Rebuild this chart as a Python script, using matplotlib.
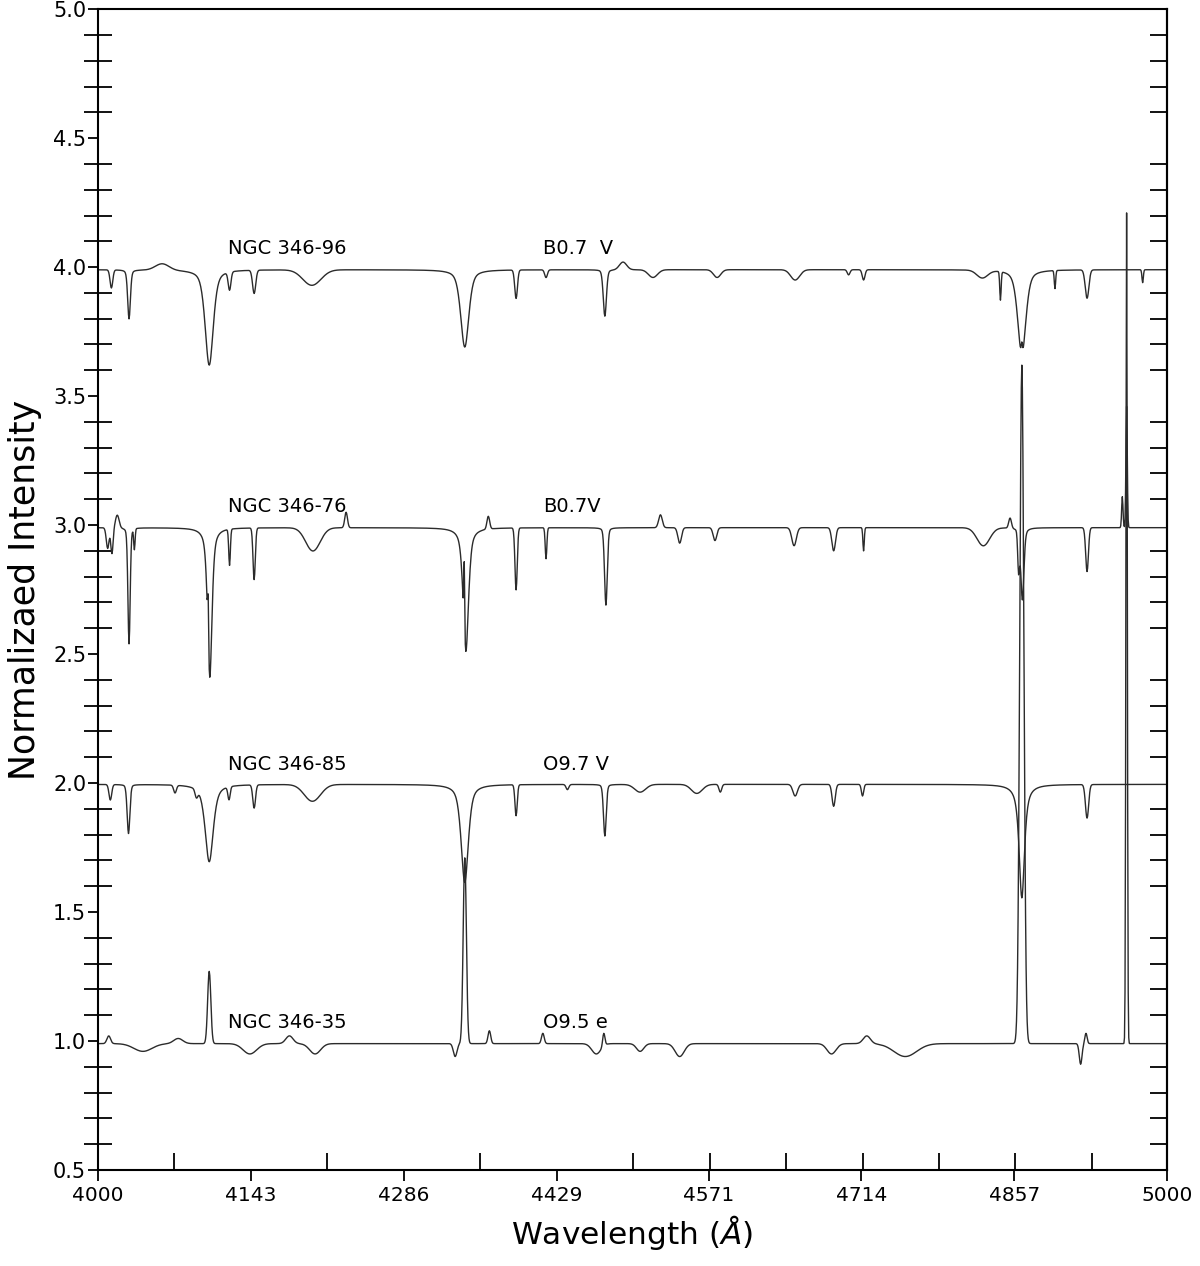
import numpy as np
import matplotlib
matplotlib.use('Agg')
import matplotlib.pyplot as plt
from matplotlib.ticker import MultipleLocator, FixedLocator, AutoMinorLocator

# star names, spectral types and vertical offsets (bottom to top)
names = ['NGC 346-35', 'NGC 346-85', 'NGC 346-76', 'NGC 346-96']
sptypes = ['O9.5 e', 'O9.7 V', 'B0.7V', 'B0.7  V']
offsets = [1.0, 2.0, 3.0, 4.0]
continuum = [0.99, 1.995, 2.99, 3.99]

# features: (centre A, amplitude, fwhm A, lorentz fraction)
lines_35 = [
    (4010, 0.03, 4, 0), (4042, -0.03, 20, 0), (4075, 0.02, 10, 0),
    (4104, 0.28, 3.5, 0), (4142, -0.04, 15, 0), (4179, 0.03, 8, 0),
    (4203, -0.04, 12, 0), (4334, -0.05, 4, 0), (4343, 0.72, 3.5, 0),
    (4366, 0.05, 3, 0), (4416, 0.04, 3, 0), (4466, -0.04, 10, 0),
    (4473, 0.05, 2.5, 0), (4507, -0.03, 8, 0), (4544, -0.05, 10, 0),
    (4686, -0.04, 10, 0), (4719, 0.03, 8, 0), (4755, -0.05, 25, 0),
    (4864, 2.63, 4.5, 0), (4919, -0.08, 3, 0), (4924, 0.04, 2.5, 0),
    (4962, 3.22, 1.5, 0),
]
lines_85 = [
    (4011.5, -0.06, 3, 0), (4028.5, -0.19, 3, 0.2), (4072, -0.03, 3, 0),
    (4092, -0.03, 3, 0), (4104, -0.30, 9, 0.6), (4122.5, -0.05, 2.5, 0),
    (4146, -0.09, 3, 0), (4200.5, -0.065, 18, 0), (4343, -0.38, 8, 0.6),
    (4391, -0.12, 2.5, 0), (4439, -0.02, 3, 0), (4474, -0.20, 3, 0.2),
    (4507, -0.03, 12, 0), (4560, -0.035, 12, 0), (4582, -0.03, 3, 0),
    (4652, -0.045, 5, 0), (4688, -0.085, 3.5, 0), (4715, -0.045, 2.5, 0),
    (4864, -0.44, 6, 0.8), (4925, -0.13, 3.5, 0),
]
lines_76 = [
    (4009, -0.08, 3, 0), (4013, -0.10, 2.5, 0), (4018, 0.05, 4, 0),
    (4029, -0.45, 2.5, 0.2), (4034, -0.08, 1.5, 0), (4104.5, -0.58, 5, 0.6),
    (4103, 0.18, 1.0, 0), (4123, -0.14, 1.8, 0), (4146, -0.20, 2.5, 0),
    (4201, -0.09, 16, 0), (4232, 0.06, 3, 0), (4344, -0.48, 6, 0.6),
    (4342.5, 0.26, 1.0, 0), (4365, 0.05, 3, 0), (4391, -0.24, 2.5, 0),
    (4419, -0.12, 1.8, 0), (4475, -0.30, 3, 0.2), (4526, 0.05, 4, 0),
    (4544, -0.06, 4, 0), (4577, -0.05, 4, 0), (4651, -0.07, 5, 0),
    (4688, -0.09, 4, 0), (4716, -0.09, 1.5, 0), (4828, -0.07, 14, 0),
    (4853, 0.04, 3, 0), (4861, -0.15, 2, 0), (4864.5, -0.28, 3.5, 0.4),
    (4925, -0.17, 3, 0), (4958, 0.12, 1.5, 0), (4962, 0.47, 1.5, 0),
]
lines_96 = [
    (4012.5, -0.07, 3, 0), (4029, -0.19, 3, 0.3), (4060, 0.025, 15, 0),
    (4104, -0.37, 9, 0.5), (4123, -0.07, 3, 0), (4146, -0.09, 3.5, 0),
    (4200, -0.06, 20, 0), (4343, -0.30, 9, 0.5), (4391, -0.11, 3, 0),
    (4419, -0.03, 3, 0), (4474, -0.18, 3.5, 0.2), (4491, 0.03, 8, 0),
    (4519, -0.03, 10, 0), (4579, -0.03, 8, 0), (4652, -0.04, 10, 0),
    (4702, -0.02, 3, 0), (4716, -0.04, 3, 0), (4827, -0.03, 12, 0),
    (4844, -0.11, 1.5, 0), (4864, -0.33, 9, 0.5), (4864, 0.05, 1.5, 0),
    (4895, -0.07, 1.5, 0), (4925, -0.11, 4, 0), (4977, -0.05, 1.5, 0),
]
all_lines = [lines_35, lines_85, lines_76, lines_96]

xticks = [4000, 4143, 4286, 4429, 4571, 4714, 4857, 5000]

wave = np.arange(4000, 5000.01, 0.5)


def spectrum(cont, lines):
    flux = np.full_like(wave, cont)
    for c, a, w, eta in lines:
        dx = (wave - c) / w
        g = np.exp(-4 * np.log(2) * dx**2)
        l = 1.0 / (1 + 4 * dx**2)
        flux += a * (eta * l + (1 - eta) * g)
    return flux


fig = plt.figure(figsize=(12, 12.66), dpi=100)
ax = fig.add_axes([0.0817, 0.0758, 0.891, 0.917])

for i in range(4):
    ax.plot(wave, spectrum(continuum[i], all_lines[i]), color='#2b2b2b', lw=1.0)
    ax.text(4121.5, offsets[i] + 0.05, names[i], fontsize=14, va='baseline')
    ax.text(4416, offsets[i] + 0.05, sptypes[i], fontsize=14, va='baseline')

ax.set_xlim(4000, 5000)
ax.set_ylim(0.5, 5.0)
ax.set_xticks(xticks)
ax.set_xticklabels([str(t) for t in xticks])
ax.xaxis.set_minor_locator(AutoMinorLocator(2))
ax.yaxis.set_major_locator(MultipleLocator(0.5))
ax.yaxis.set_minor_locator(AutoMinorLocator(5))
ax.yaxis.set_major_formatter(plt.FormatStrFormatter('%.1f'))

ax.tick_params(axis='x', which='major', direction='out', length=8, width=1.3, labelsize=14.5)
ax.tick_params(axis='y', which='major', direction='out', length=7, width=1.3, labelsize=15, pad=1.5)
ax.tick_params(axis='y', which='minor', direction='inout', length=20, width=1.3)
ax.tick_params(axis='x', which='minor', direction='in', length=12, width=1.3)

# inward minor ticks on the right side only
sec = ax.secondary_yaxis('right')
sec.set_yticks([])
minor_right = [round(v, 1) for v in np.arange(0.6, 5.0, 0.1) if abs(v * 2 - round(v * 2)) > 1e-6]
sec.yaxis.set_minor_locator(FixedLocator(minor_right))
sec.tick_params(which='minor', direction='in', length=12, width=1.3)
sec.spines['right'].set_linewidth(1.5)

for s in ax.spines.values():
    s.set_linewidth(1.5)

ax.set_xlabel(r'Wavelength ($\AA$)', fontsize=22.5, labelpad=6)
ax.set_ylabel('Normalizaed Intensity', fontsize=25, labelpad=8)

fig.savefig('out.png', dpi=100)
